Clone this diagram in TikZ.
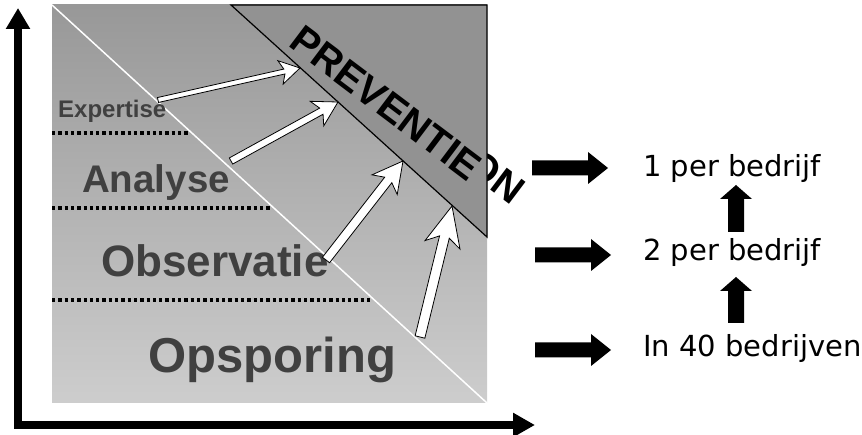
\documentclass[tikz,border=0pt]{standalone}
\usepackage{fontspec}
\setmainfont{Liberation Sans}
\newfontfamily\rfont{DejaVu Sans}
\usetikzlibrary{calc,arrows.meta}
\definecolor{rectTop}{HTML}{989898}
\definecolor{rectBot}{HTML}{CDCDCD}
\definecolor{triFill}{HTML}{929292}
\definecolor{lblGray}{HTML}{404040}
% block arrow: #1 from, #2 to, #3 half shaft, #4 half head, #5 head length, #6 junction distance, #7 style
\newcommand\blockarr[7]{%
  \coordinate (ba-h) at ($(#2)!#5!(#1)$);
  \coordinate (ba-j) at ($(#2)!#6!(#1)$);
  \draw[#7] ($(#1)!#3!90:(#2)$) -- ($(ba-j)!#3!90:(#2)$) -- ($(ba-h)!#4!90:(#2)$) -- (#2)
    -- ($(ba-h)!#4!-90:(#2)$) -- ($(ba-j)!#3!-90:(#2)$) -- ($(#1)!#3!-90:(#2)$) -- cycle;}
\tikzset{
  lbl/.style={inner sep=0pt, text=lblGray, font=\bfseries, anchor=base west},
  dotline/.style={line width=3.2pt, dash pattern=on 3.3pt off 3pt},
  rtext/.style={inner sep=0pt, anchor=base west, font=\rfont\fontsize{29}{29}\selectfont},
  whitearr/.style={draw=black, fill=white, line width=0.8pt, line join=miter},
  blackarr/.style={fill=black, draw=none},
  prev/.style={inner sep=0pt, rotate=-37, font=\bfseries\fontsize{40}{40}\selectfont}
}
\begin{document}
\begin{tikzpicture}[x=1pt,y=-1pt]
\useasboundingbox (0,0) rectangle (862,435);
% background gradient rectangle
\shade[top color=rectTop, bottom color=rectBot] (52,5) rectangle (487,403);
\coordinate (dtl) at (52,5);
\coordinate (dbr) at (487,403);
\draw[white, line width=1.5pt] (dtl) -- (dbr);
% dotted separators
\coordinate (d1a) at (52,133); \coordinate (d1b) at (190,133);
\coordinate (d2a) at (52,208); \coordinate (d2b) at (272,208);
\coordinate (d3a) at (52,300); \coordinate (d3b) at (370,300);
\draw[dotline] (d1a) -- (d1b);
\draw[dotline] (d2a) -- (d2b);
\draw[dotline] (d3a) -- (d3b);
% labels
\node[lbl, font=\bfseries\fontsize{24}{24}\selectfont] (expertise) at (58,118) {Expertise};
\node[lbl, font=\bfseries\fontsize{38.5}{38.5}\selectfont] (analyse) at (82,193) {Analyse};
\node[lbl, font=\bfseries\fontsize{44}{44}\selectfont] (observatie) at (101,277) {Observatie};
\node[lbl, font=\bfseries\fontsize{49}{49}\selectfont] (opsporing) at (148,373) {Opsporing};
% hidden part of text behind triangle
\node[prev] (on) at (496,177) {ON};
% prevention triangle
\coordinate (t1) at (231,5);
\coordinate (t2) at (487,5);
\coordinate (t3) at (487,237);
\draw[fill=triFill, line width=1.2pt, line join=miter] (t1) -- (t2) -- (t3) -- cycle;
\node[prev] (preventie) at (386,103) {PREVENTIE};
% white arrows to prevention
\coordinate (a1s) at (158,100); \coordinate (a1e) at (300,68);
\coordinate (a2s) at (231,161); \coordinate (a2e) at (338,102);
\coordinate (a3s) at (326,260); \coordinate (a3e) at (403,161);
\coordinate (a4s) at (420,337); \coordinate (a4e) at (452,206);
\blockarr{a1s}{a1e}{2.5pt}{12pt}{20pt}{16pt}{whitearr}
\blockarr{a2s}{a2e}{3.5pt}{14pt}{24pt}{19pt}{whitearr}
\blockarr{a3s}{a3e}{4.5pt}{16pt}{30pt}{24pt}{whitearr}
\blockarr{a4s}{a4e}{5pt}{18pt}{40pt}{32pt}{whitearr}
% axes
\coordinate (ytip) at (18,8);
\coordinate (xtip) at (535,425);
\draw[line width=8pt, line join=miter, {Triangle[width=23pt,length=21pt]}-{Triangle[width=23pt,length=22pt]}] (ytip) |- (xtip);
% right texts
\node[rtext] (r1) at (643,177) {1 per bedrijf};
\node[rtext] (r2) at (643,261) {2 per bedrijf};
\node[rtext] (r3) at (643,357) {In 40 bedrijven};
% black arrows
\coordinate (b1s) at (532,168); \coordinate (b1e) at (608,168);
\coordinate (b2s) at (535,255); \coordinate (b2e) at (611,255);
\coordinate (b3s) at (535,350); \coordinate (b3e) at (611,350);
\blockarr{b1s}{b1e}{7.5pt}{16pt}{20pt}{20pt}{blackarr}
\blockarr{b2s}{b2e}{7.5pt}{16pt}{20pt}{20pt}{blackarr}
\blockarr{b3s}{b3e}{7.5pt}{16pt}{20pt}{20pt}{blackarr}
\coordinate (v1s) at (736,232); \coordinate (v1e) at (736,185);
\coordinate (v2s) at (736,323); \coordinate (v2e) at (736,277);
\blockarr{v1s}{v1e}{8pt}{16pt}{14pt}{14pt}{blackarr}
\blockarr{v2s}{v2e}{8pt}{16pt}{14pt}{14pt}{blackarr}
\end{tikzpicture}
\end{document}
